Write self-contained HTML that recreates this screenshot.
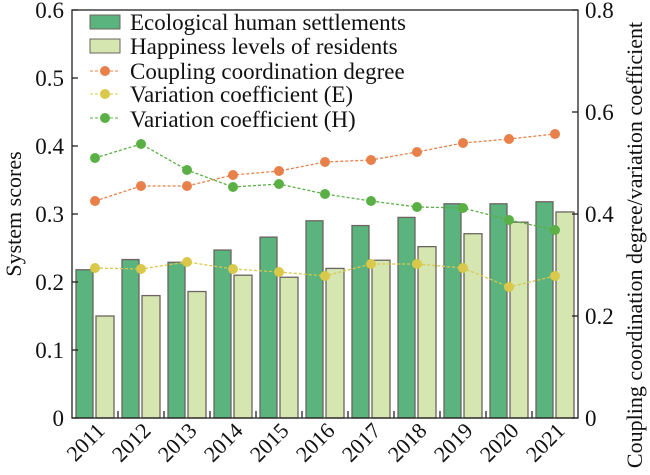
<!DOCTYPE html>
<html><head><meta charset="utf-8"><style>body{margin:0;background:#fff}svg{display:block}svg text{font-family:"Liberation Serif","DejaVu Serif",serif;fill:#111}</style></head>
<body>
<svg width="650" height="475" viewBox="0 0 650 475" font-family="Liberation Serif, serif">
<g id="bars" stroke="#6b6460" stroke-width="1.3"></g>
<g id="lines"></g>
<rect x="72" y="10" width="506" height="408" fill="none" stroke="#222" stroke-width="1.3"/>
<g font-size="23" text-anchor="end">
<text x="64" y="426">0</text><text x="64" y="358">0.1</text><text x="64" y="290">0.2</text><text x="64" y="222">0.3</text><text x="64" y="154">0.4</text><text x="64" y="86">0.5</text><text x="64" y="18">0.6</text>
</g>
<g font-size="23">
<text x="585" y="426">0</text><text x="585" y="324">0.2</text><text x="585" y="222">0.4</text><text x="585" y="120">0.6</text><text x="585" y="18">0.8</text>
</g>
<g stroke="#222" stroke-width="1.3" id="ticks"></g>
<text font-size="22" transform="translate(21,214) rotate(-90)" text-anchor="middle">System scores</text>
<text font-size="22" transform="translate(642,245) rotate(-90)" text-anchor="middle">Coupling coordination degree/variation coefficient</text>
<g id="xl" font-size="22" text-anchor="end"></g>
<g font-size="23">
<rect x="90" y="15" width="30" height="14" fill="#5bb37d" stroke="#6b6460"/><text x="130" y="30">Ecological human settlements</text>
<rect x="90" y="39" width="30" height="14" fill="#d6e6b0" stroke="#6b6460"/><text x="130" y="54">Happiness levels of residents</text>
<line x1="90" y1="71" x2="120" y2="71" stroke="#e8804a" stroke-dasharray="3,2"/><circle cx="105" cy="71" r="5" fill="#e8804a"/><text x="130" y="79">Coupling coordination degree</text>
<line x1="90" y1="94" x2="120" y2="94" stroke="#d9c84a" stroke-dasharray="3,2"/><circle cx="105" cy="94" r="5" fill="#d9c84a"/><text x="130" y="102">Variation coefficient (E)</text>
<line x1="90" y1="118" x2="120" y2="118" stroke="#5ab044" stroke-dasharray="3,2"/><circle cx="105" cy="118" r="5" fill="#5ab044"/><text x="130" y="127">Variation coefficient (H)</text>
</g>
</svg>
<script>
const g=[0.218,0.233,0.229,0.247,0.266,0.290,0.283,0.295,0.315,0.315,0.318];
const l=[0.15,0.18,0.186,0.21,0.207,0.22,0.232,0.252,0.271,0.288,0.303];
const o=[201,186,186,175,171,162,160,152,143,139,134];
const y=[268,269,262,269,272,276,264,264,268,287,276];
const h=[158,144,170,187,184,194,201,207,208,220,230];
const ns="http://www.w3.org/2000/svg";
function el(p,t,a){const e=document.createElementNS(ns,t);for(const k in a)e.setAttribute(k,a[k]);document.getElementById(p).appendChild(e);return e;}
for(let i=0;i<11;i++){const x0=72+46*i;
el("bars","rect",{x:x0+4,y:418-g[i]*680,width:17,height:g[i]*680,fill:"#5bb37d"});
el("bars","rect",{x:x0+24,y:418-l[i]*680,width:18,height:l[i]*680,fill:"#d6e6b0"});
if(i>0)el("ticks","line",{x1:x0,y1:418,x2:x0,y2:411});
const t=el("xl","text",{transform:`translate(${x0+34},432) rotate(-45)`});t.textContent=2011+i;}
for(let i=0;i<7;i++)el("ticks","line",{x1:72,y1:418-68*i,x2:78,y2:418-68*i});
for(let i=0;i<5;i++)el("ticks","line",{x1:572,y1:418-102*i,x2:578,y2:418-102*i});
[[o,"#e8804a"],[y,"#d9c84a"],[h,"#5ab044"]].forEach(([d,c])=>{
el("lines","polyline",{points:d.map((v,i)=>(95+46*i)+","+v).join(" "),fill:"none",stroke:c,"stroke-width":1.3,"stroke-dasharray":"3,2"});
d.forEach((v,i)=>el("lines","circle",{cx:95+46*i,cy:v,r:5,fill:c}));});
</script>
</body></html>
